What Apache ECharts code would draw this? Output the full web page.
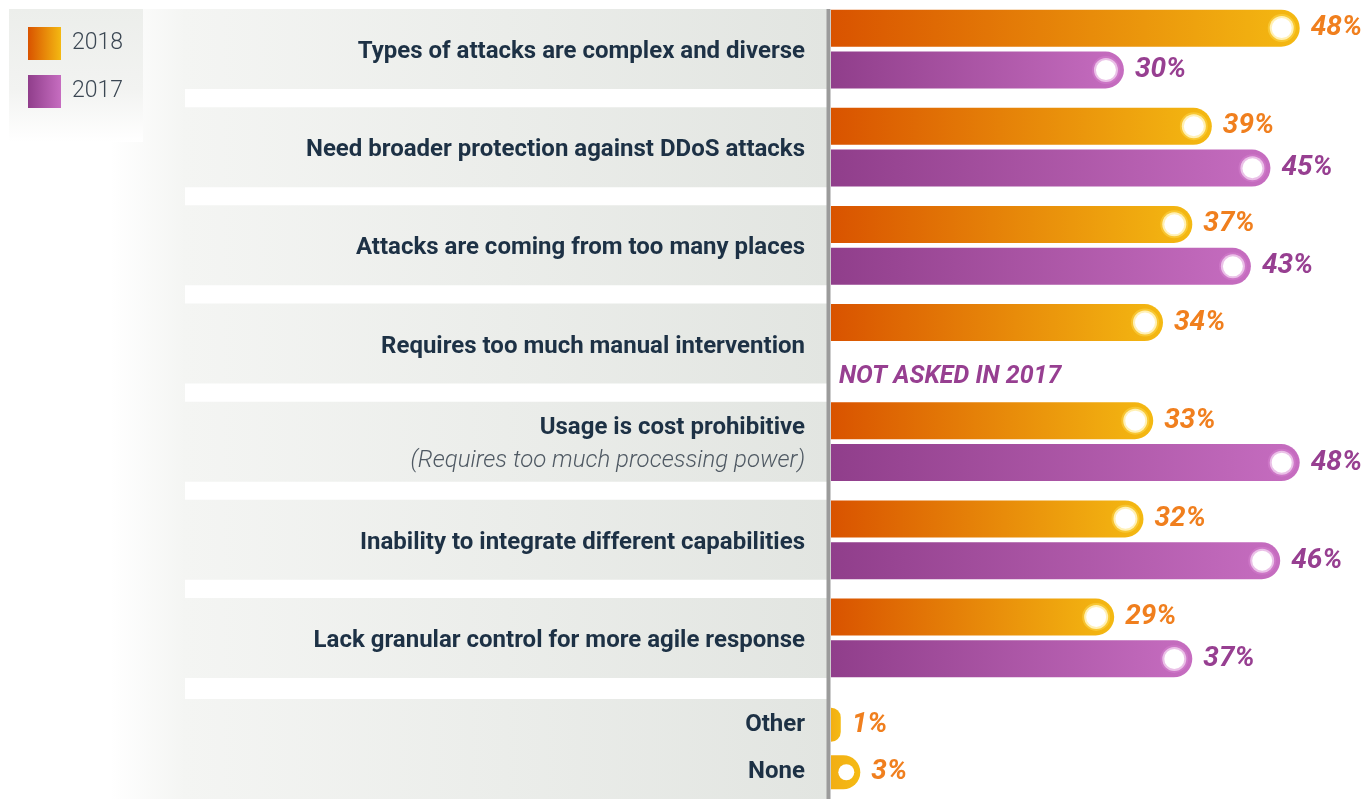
<!DOCTYPE html>
<html>
<head>
<meta charset="utf-8">
<title>DDoS protection challenges</title>
<script src="https://cdn.jsdelivr.net/npm/echarts@6/dist/echarts.min.js"></script>
<style>
  html, body { margin: 0; padding: 0; background: #fff; }
  #chart { width: 1371px; height: 799px; }
</style>
</head>
<body>
<div id="chart"></div>
<script>
// data
const categories = [
  "Types of attacks are complex and diverse",
  "Need broader protection against DDoS attacks",
  "Attacks are coming from too many places",
  "Requires too much manual intervention",
  "Usage is cost prohibitive\n(Requires too much processing power)",
  "Inability to integrate different capabilities",
  "Lack granular control for more agile response"
];
const values2018 = [48, 39, 37, 34, 33, 32, 29];
const values2017 = [30, 45, 43, null, 48, 46, 37];
const extraCategories = ["Other", "None"];
const extraValues2018 = [1, 3];
const notAskedText = "NOT ASKED IN 2017";

const AXIS_X = 831;
const X_MAX = 55.3;
const PX_PER_UNIT = (1371 - AXIS_X) / X_MAX;
const BAR_W = 37;
const OFFSET = 21;

let chart = echarts.init(document.getElementById("chart"));

const orangeFill = new echarts.graphic.LinearGradient(0, 0, 1, 0, [
  { offset: 0, color: "#d95300" },
  { offset: 1, color: "#f4b912" }
]);
const purpleFill = new echarts.graphic.LinearGradient(0, 0, 1, 0, [
  { offset: 0, color: "#903e8b" },
  { offset: 1, color: "#c66dc0" }
]);
const smallFill = new echarts.graphic.LinearGradient(0, 0, 1, 0, [
  { offset: 0, color: "#f2ae14" },
  { offset: 1, color: "#f5bb14" }
]);
const bandFill = new echarts.graphic.LinearGradient(0, 0, 1, 0, [
  { offset: 0, color: "#f4f5f3" },
  { offset: 1, color: "#e2e5e1" }
]);

function pctLabel(color) {
  return {
    show: true,
    position: "right",
    distance: 11,
    formatter: "{c}%",
    color: color,
    fontFamily: "Roboto",
    fontSize: 28,
    fontWeight: "bold",
    fontStyle: "italic"
  };
}

function ring(offsetY, border) {
  return {
    type: "scatter",
    symbol: "circle",
    symbolSize: 24,
    symbolOffset: [-18, offsetY],
    itemStyle: { color: "#fff", opacity: 1, borderColor: border, borderWidth: 4 },
    silent: true,
    z: 4
  };
}

const data2017 = values2017.map(v =>
  v === null
    ? {
        value: 0,
        label: {
          show: true,
          position: "right",
          distance: 8,
          offset: [0, 12],
          formatter: notAskedText,
          color: "#973f91",
          fontFamily: "Roboto",
          fontSize: 25,
          fontWeight: "bold",
          fontStyle: "italic"
        }
      }
    : v
);

let option = {
  backgroundColor: "#fff",
  animation: false,
  legend: {
    data: ["2018", "2017"],
    orient: "vertical",
    left: 9,
    top: 9,
    padding: [18, 20, 34, 19],
    itemWidth: 33,
    itemHeight: 33,
    itemGap: 15,
    icon: "rect",
    backgroundColor: new echarts.graphic.LinearGradient(0, 0, 0, 1, [
      { offset: 0, color: "#eceeeb" },
      { offset: 0.6, color: "#f2f3f1" },
      { offset: 1, color: "#ffffff" }
    ]),
    textStyle: {
      fontFamily: "Roboto",
      fontSize: 23,
      fontWeight: 300,
      color: "#3b4753",
      padding: [4, 0, 0, 6]
    }
  },
  graphic: [
    {
      type: "rect",
      z: -10,
      silent: true,
      shape: { x: 110, y: 9, width: 75, height: 790 },
      style: {
        fill: new echarts.graphic.LinearGradient(0, 0, 1, 0, [
          { offset: 0, color: "rgba(255,255,255,1)" },
          { offset: 1, color: "#f4f5f3" }
        ])
      }
    },
    {
      type: "line",
      z: 100,
      silent: true,
      shape: { x1: AXIS_X - 2.5, y1: 9, x2: AXIS_X - 2.5, y2: 799 },
      style: { stroke: "#9b9b9b", lineWidth: 4 }
    }
  ],
  grid: [
    { left: AXIS_X, right: 0, top: 0, height: 687 },
    { left: 183, right: 1371 - AXIS_X + 2, top: 0, height: 687 },
    { left: AXIS_X, right: 0, top: 701, height: 95 },
    { left: 183, right: 1371 - AXIS_X + 2, top: 699, height: 100 }
  ],
  xAxis: [
    { gridIndex: 0, type: "value", min: 0, max: X_MAX, show: false },
    { gridIndex: 1, type: "value", min: 0, max: 1, show: false },
    { gridIndex: 2, type: "value", min: 0, max: X_MAX, show: false },
    { gridIndex: 3, type: "value", min: 0, max: 1, show: false }
  ],
  yAxis: [
    {
      gridIndex: 0,
      type: "category",
      inverse: true,
      data: categories,
      z: 10,
      axisLine: { show: false },
      axisTick: { show: false },
      axisLabel: {
        margin: 26,
        padding: [6, 0, 0, 0],
        fontFamily: "Roboto",
        fontSize: 24,
        fontWeight: "bold",
        color: "#1d3145",
        lineHeight: 33,
        formatter: function (v) {
          let parts = v.split("\n");
          if (parts.length > 1) {
            return "{main|" + parts[0] + "}\n{sub|" + parts[1] + "}";
          }
          return v;
        },
        rich: {
          main: {
            fontFamily: "Roboto",
            fontSize: 24,
            fontWeight: "bold",
            color: "#1d3145",
            lineHeight: 33,
            align: "right"
          },
          sub: {
            fontFamily: "Roboto",
            fontSize: 24,
            fontWeight: 300,
            fontStyle: "italic",
            color: "#4f5963",
            lineHeight: 33,
            align: "right"
          }
        }
      }
    },
    { gridIndex: 1, type: "category", inverse: true, data: categories, show: false },
    {
      gridIndex: 2,
      type: "category",
      inverse: true,
      data: extraCategories,
      z: 10,
      axisLine: { show: false },
      axisTick: { show: false },
      axisLabel: {
        margin: 26,
        padding: [4, 0, 0, 0],
        fontFamily: "Roboto",
        fontSize: 24,
        fontWeight: "bold",
        color: "#1d3145"
      }
    },
    { gridIndex: 3, type: "category", inverse: true, data: ["band"], show: false }
  ],
  series: [
    {
      name: "band",
      type: "bar",
      xAxisIndex: 1,
      yAxisIndex: 1,
      data: categories.map(() => 1),
      barWidth: 80,
      itemStyle: { color: bandFill },
      silent: true,
      z: 0
    },
    {
      name: "band2",
      type: "bar",
      xAxisIndex: 3,
      yAxisIndex: 3,
      data: [1],
      barWidth: "100%",
      itemStyle: { color: bandFill },
      silent: true,
      z: 0
    },
    {
      name: "2018",
      type: "bar",
      xAxisIndex: 0,
      yAxisIndex: 0,
      data: values2018,
      barWidth: BAR_W,
      barGap: "13%",
      itemStyle: { color: orangeFill, borderRadius: [0, 18.5, 18.5, 0] },
      label: pctLabel("#f07f1e"),
      z: 3
    },
    {
      name: "2017",
      type: "bar",
      xAxisIndex: 0,
      yAxisIndex: 0,
      data: data2017,
      barWidth: BAR_W,
      barGap: "13%",
      itemStyle: { color: purpleFill, borderRadius: [0, 18.5, 18.5, 0] },
      label: pctLabel("#973f91"),
      z: 3
    },
    Object.assign(ring(-OFFSET, "rgba(255,222,90,0.45)"), {
      name: "ring2018",
      xAxisIndex: 0,
      yAxisIndex: 0,
      data: values2018
    }),
    Object.assign(ring(OFFSET, "rgba(214,130,208,0.5)"), {
      name: "ring2017",
      xAxisIndex: 0,
      yAxisIndex: 0,
      data: values2017
    }),
    {
      name: "2018",
      type: "bar",
      xAxisIndex: 2,
      yAxisIndex: 2,
      data: extraValues2018,
      barWidth: 34,
      itemStyle: { color: smallFill, borderRadius: [0, 17, 17, 0] },
      label: pctLabel("#f07f1e"),
      z: 3
    },
    {
      name: "ringExtra",
      type: "scatter",
      xAxisIndex: 2,
      yAxisIndex: 2,
      // only bars long enough to hold the white dot get one
      data: extraValues2018.map(v => (v * PX_PER_UNIT > 22 ? v : null)),
      symbol: "circle",
      symbolSize: 16,
      symbolOffset: [-14, 0],
      itemStyle: { color: "#fff", opacity: 1 },
      silent: true,
      z: 4
    }
  ]
};

chart.setOption(option);
</script>
</body>
</html>
